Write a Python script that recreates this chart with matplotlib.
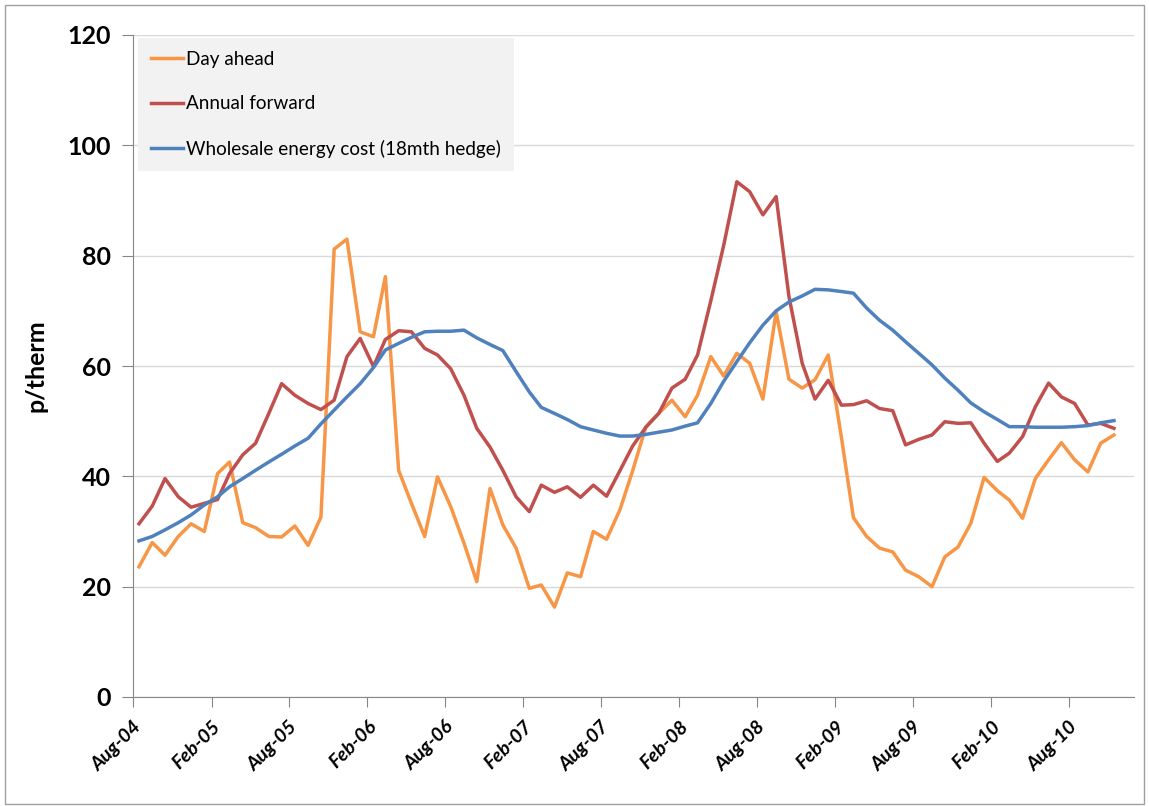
import numpy as np
import pandas as pd
import matplotlib
matplotlib.use("Agg")
import matplotlib.pyplot as plt
from matplotlib.patches import Rectangle

plt.rcParams["font.family"] = ["Lato", "DejaVu Sans"]

# ──────────────────────────────
# Data (p/therm, monthly Aug-04 .. Nov-10)
# ──────────────────────────────
day_ahead = [
    23.6, 28.0, 25.7, 29.1, 31.4, 30.0, 40.5, 42.6, 31.6, 30.7,
    29.1, 29.0, 31.0, 27.5, 32.6, 81.2, 83.0, 66.2, 65.3, 76.2,
    41.1, 35.1, 29.1, 39.9, 34.5, 27.9, 20.9, 37.8, 31.2, 27.0,
    19.7, 20.3, 16.3, 22.5, 21.8, 30.0, 28.6, 33.9, 41.0, 49.0,
    51.4, 53.8, 50.8, 54.7, 61.7, 58.2, 62.3, 60.5, 54.0, 69.8,
    57.6, 56.0, 57.5, 62.0, 47.0, 32.5, 29.1, 27.0, 26.3, 23.0,
    21.8, 20.0, 25.4, 27.2, 31.5, 39.8, 37.4, 35.7, 32.4, 39.6,
    43.0, 46.1, 43.0, 40.8, 46.0, 47.5,
]
annual_forward = [
    31.4, 34.6, 39.6, 36.3, 34.4, 35.1, 35.8, 40.5, 43.9, 46.0,
    51.4, 56.8, 54.7, 53.2, 52.1, 53.8, 61.7, 65.0, 59.9, 64.8,
    66.4, 66.2, 63.2, 62.0, 59.5, 54.7, 48.7, 45.3, 41.1, 36.3,
    33.6, 38.4, 37.1, 38.1, 36.2, 38.4, 36.4, 41.0, 45.5, 48.9,
    51.4, 56.0, 57.6, 62.0, 71.8, 81.8, 93.4, 91.6, 87.4, 90.7,
    72.6, 60.5, 54.0, 57.4, 52.9, 53.0, 53.7, 52.3, 51.9, 45.7,
    46.7, 47.5, 49.9, 49.6, 49.7, 46.0, 42.7, 44.2, 47.2, 52.6,
    56.9, 54.4, 53.2, 49.3, 49.6, 48.7,
]
wholesale_cost = [
    28.3, 29.1, 30.3, 31.6, 33.0, 34.8, 36.3, 38.1, 39.6, 41.1,
    42.6, 44.0, 45.5, 46.9, 49.5, 52.0, 54.4, 56.8, 59.7, 62.9,
    64.1, 65.2, 66.2, 66.3, 66.3, 66.5, 65.1, 63.9, 62.8, 59.0,
    55.3, 52.5, 51.4, 50.3, 49.0, 48.4, 47.8, 47.3, 47.3, 47.6,
    48.0, 48.4, 49.1, 49.7, 53.2, 57.2, 60.8, 64.2, 67.4, 70.0,
    71.6, 72.7, 73.9, 73.8, 73.5, 73.2, 70.5, 68.3, 66.5, 64.4,
    62.3, 60.2, 57.8, 55.6, 53.3, 51.7, 50.3, 49.0, 49.0, 48.9,
    48.9, 48.9, 49.0, 49.2, 49.7, 50.1,
]
series_labels = ["Day ahead", "Annual forward", "Wholesale energy cost (18mth hedge)"]
tick_labels = ["Aug-04", "Feb-05", "Aug-05", "Feb-06", "Aug-06", "Feb-07", "Aug-07",
               "Feb-08", "Aug-08", "Feb-09", "Aug-09", "Feb-10", "Aug-10"]

months = pd.date_range("2004-08-01", periods=len(day_ahead), freq="MS") + pd.Timedelta(days=14)
tick_dates = pd.date_range("2004-08-01", periods=len(tick_labels), freq="6MS")

colors = ["#F79646", "#C0504D", "#4F81BD"]

# ──────────────────────────────
# Figure
# ──────────────────────────────
fig = plt.figure(figsize=(11.49, 8.06), dpi=100)
ax = fig.add_axes([133 / 1149, 1 - 697 / 806, (1134 - 133) / 1149, (697 - 35) / 806])

for values, label, color in zip([day_ahead, annual_forward, wholesale_cost], series_labels, colors):
    ax.plot(months, values, color=color, lw=2.5, label=label)

ax.set_ylim(0, 120)
ax.set_yticks(np.arange(0, 121, 20))
ax.set_xlim(pd.Timestamp("2004-08-01"), pd.Timestamp("2011-01-01"))
ax.set_xticks(tick_dates)
ax.set_xticklabels(tick_labels, rotation=45, ha="right", rotation_mode="anchor",
                   fontsize=14, fontweight="bold", fontstyle="italic")

for lbl in ax.get_yticklabels():
    lbl.set_fontsize(18)
    lbl.set_fontweight("bold")

ax.grid(axis="y", color="#d9d9d9", lw=1)
ax.set_axisbelow(True)
for side in ["top", "right"]:
    ax.spines[side].set_visible(False)
for side in ["left", "bottom"]:
    ax.spines[side].set_color("#868686")
ax.tick_params(axis="y", length=8, color="#868686", pad=8)
ax.tick_params(axis="x", length=7, color="#868686", pad=8)

ax.set_ylabel("p/therm", fontsize=18, fontweight="bold", labelpad=14)

leg = ax.legend(loc="upper left", bbox_to_anchor=(0.005, 0.996), fontsize=13.6,
                frameon=True, facecolor="#f2f2f2", edgecolor="none", fancybox=False,
                handlelength=1.7, handletextpad=0.15, labelspacing=1.45,
                borderpad=0.7, borderaxespad=0)
leg.get_frame().set_alpha(1)

# outer chart border
fig.patches.append(Rectangle((5 / 1149, 2 / 806), 1139 / 1149, 799 / 806,
                             transform=fig.transFigure, fill=False,
                             edgecolor="#a0a0a0", lw=1))

fig.savefig("out.png", dpi=100)
